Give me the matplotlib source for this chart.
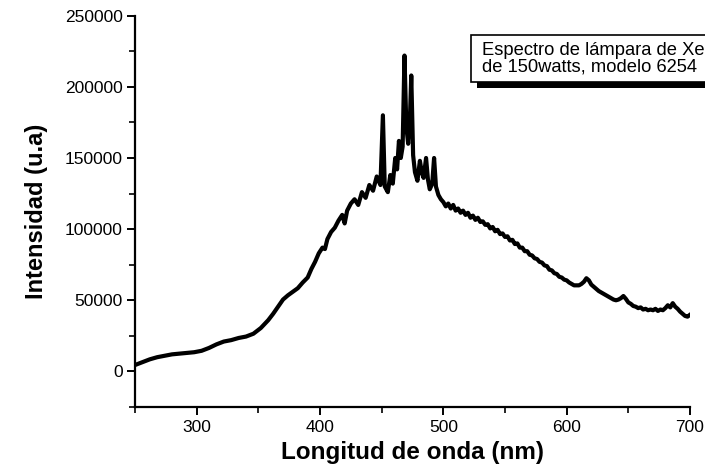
import matplotlib
matplotlib.use("Agg")
import matplotlib.pyplot as plt
from matplotlib.patches import Rectangle
from matplotlib.ticker import MultipleLocator

plt.rcParams['font.family'] = ['Liberation Sans', 'DejaVu Sans']

wavelength = [250, 256, 262, 268, 274, 280, 286, 292, 298, 304, 310, 316, 322, 328, 334, 340,
              346, 352, 358, 362, 366, 370, 374, 378, 382, 386, 390, 393, 396, 399, 402, 404,
              406, 409, 412, 415, 418, 420, 422, 425, 428, 431, 434, 437, 440, 443, 446, 449,
              451, 452.5, 455, 457, 459, 461, 462.5, 464, 465.5, 467, 468.5, 470, 471.5, 473,
              474, 475.5, 477, 479, 481, 482.5, 484, 486, 487.5, 489, 491, 492.5, 494, 496,
              498,
              500, 502, 504, 506, 508, 510, 512, 514, 516, 518, 520, 522, 524, 526, 528, 530,
              532, 534, 536, 538, 540, 542, 544, 546, 548, 550, 552, 554, 556, 558, 560, 562,
              564, 566, 568, 570, 572, 574, 576, 578, 580, 582, 584, 586, 588, 590, 592, 594,
              596, 598, 600, 602, 604, 606, 608, 610, 612, 614, 616, 618, 620, 622, 624, 626,
              628, 630, 632, 634, 636, 638, 640, 642, 644, 646, 648, 650, 652, 654, 656, 658,
              660, 662, 664, 666, 668, 670, 672, 674, 676, 678, 680, 682, 684, 686, 688, 690,
              692, 694, 696, 698, 699.5]
intensity = [4500, 6500, 8500, 10000, 11000, 12000, 12500, 13000, 13500, 14500, 16500, 19000,
             21000, 22000, 23500, 24500, 26500, 30500, 36000, 40500, 45500, 50500, 53500, 56000,
             58500, 62500, 66000, 72000, 77000, 83000, 87000, 86000, 93000, 98000, 101000,
             106000, 110000, 104000, 113000, 118000, 121000, 117000, 126000, 122000, 131000,
             127000, 137000, 131000, 180000, 130000, 126000, 138000, 132000, 150000, 142000,
             162000, 150000, 158000, 222000, 172000, 160000, 180000, 208000, 152000, 140000,
             134000, 148000, 140000, 136000, 150000, 135000, 128000, 132000, 150000, 130000,
             124000, 121000,
             119000, 116000, 118000, 114500, 117000, 113000, 114500, 111500, 113000, 110000,
             111500, 108000, 109500, 106500, 108000, 105000, 105500, 103000, 103500, 100500,
             101500, 98500, 99500, 96500, 97000, 94500, 95000, 92000, 92500, 89500, 90000,
             87000, 87000, 84500, 84500, 82000, 81500, 79500, 79000, 77000, 76500, 74500,
             74000, 71500, 71000, 69000, 68500, 66500, 66000, 64500, 64000, 62500, 61500,
             60500, 60500, 60500, 61500, 63000, 65500, 64000, 61000, 59500, 58000, 56500,
             55500, 54500, 53500, 52500, 51500, 50500, 50000, 50500, 51500, 53000, 51000,
             48500, 47500, 46000, 45500, 44500, 45000, 43500, 44000, 43000, 43500, 43000,
             44000, 42500, 43500, 43000, 44500, 46500, 45000, 48000, 45500, 44000, 42000,
             40500, 39000, 38500, 39500]

legend_lines = ["Espectro de lámpara de Xe", "de 150watts, modelo 6254"]

W, H = 705, 467
fig = plt.figure(figsize=(W / 100, H / 100), dpi=100)
ax = fig.add_axes([135 / W, 1 - 407 / H, (690 - 135) / W, (407 - 15.7) / H])

ax.plot(wavelength, intensity, color='black', linewidth=3.0, solid_joinstyle='round')

ax.set_xlim(250, 700)
ax.set_ylim(-25000, 250000)
ax.xaxis.set_minor_locator(MultipleLocator(50))
ax.yaxis.set_minor_locator(MultipleLocator(25000))
ax.set_xticks([300, 400, 500, 600, 700])
ax.set_yticks([0, 50000, 100000, 150000, 200000, 250000])

for s in ['top', 'right']:
    ax.spines[s].set_visible(False)
for s in ['left', 'bottom']:
    ax.spines[s].set_linewidth(1.6)

ax.tick_params(axis='both', which='major', direction='out', length=6, width=1.4,
               labelsize=12.5, pad=3)
ax.tick_params(axis='both', which='minor', direction='out', length=4, width=1.2)

ax.set_xlabel("Longitud de onda (nm)", fontsize=17.5, fontweight='bold', labelpad=5)
ax.set_ylabel("Intensidad (u.a)", fontsize=17, fontweight='bold', labelpad=12)

# legend-like annotation box with shadow (Origin style), clipped at figure edge
shadow = Rectangle((477 / W, 1 - 88 / H), 0.5, (88 - 40) / H, transform=fig.transFigure,
                   facecolor='black', edgecolor='none', zorder=5)
box = Rectangle((471 / W, 1 - 82 / H), 0.5, (82 - 35) / H, transform=fig.transFigure,
                facecolor='white', edgecolor='black', linewidth=1.2, zorder=6)
fig.patches.extend([shadow, box])
fig.text(482 / W, 1 - 55 / H, legend_lines[0], fontsize=13.2, ha='left', va='baseline', zorder=7)
fig.text(482 / W, 1 - 71 / H, legend_lines[1], fontsize=13.2, ha='left', va='baseline', zorder=7)

fig.savefig("out.png", dpi=100)
